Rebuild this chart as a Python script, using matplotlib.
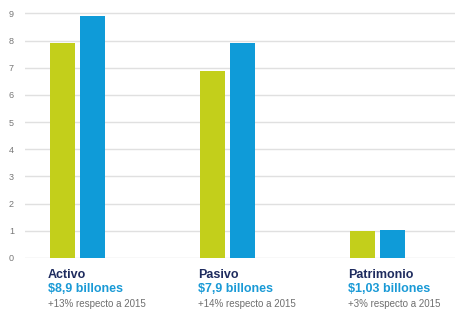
import numpy as np
import matplotlib.pyplot as plt

plt.rcParams['font.family'] = ['Liberation Sans Narrow', 'Liberation Sans', 'DejaVu Sans']

categories = ["Activo", "Pasivo", "Patrimonio"]
valores_2015 = [7.9, 6.9, 1.0]
valores_2016 = [8.9, 7.9, 1.03]
montos = ["$8,9 billones", "$7,9 billones", "$1,03 billones"]
variaciones = ["+13% respecto a 2015", "+14% respecto a 2015", "+3% respecto a 2015"]
yticks = list(range(0, 10))

green = "#c3cf1b"
blue = "#0f9bd8"

fig = plt.figure(figsize=(4.56, 3.18), dpi=100)
ax = fig.add_axes([0.055, 0.189, 0.945, 0.79])

x = np.arange(len(categories))
w = 0.167
ax.bar(x - 0.1, valores_2015, width=w, color=green, zorder=3)
ax.bar(x + 0.1, valores_2016, width=w, color=blue, zorder=3)

ax.set_xlim(-0.35, 2.52)
ax.set_ylim(0, 9.25)
ax.set_yticks(yticks)
ax.set_yticklabels([str(t) for t in yticks], fontsize=6.5, color="#777777")
ax.set_xticks([])
ax.yaxis.grid(True, color="#e0e0e0", linewidth=1, zorder=0)
ax.tick_params(axis='y', length=0, pad=8)
for s in ax.spines.values():
    s.set_visible(False)

for i, cat in enumerate(categories):
    x0 = x[i] - 0.1 - w / 2 - 0.015
    ax.text(x0, -0.62, cat, fontsize=9, fontweight='bold', color="#1e2b5e",
            ha='left', va='center', clip_on=False)
    ax.text(x0, -1.14, montos[i], fontsize=9, fontweight='bold', color="#1a9ad6",
            ha='left', va='center', clip_on=False)
    ax.text(x0, -1.68, variaciones[i], fontsize=7, color="#6f6f6f",
            ha='left', va='center', clip_on=False)

fig.savefig("out.png", dpi=100)
